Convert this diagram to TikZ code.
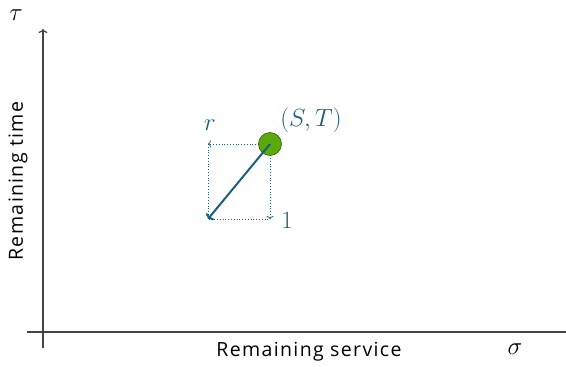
\documentclass[tikz,border=0pt]{standalone}
\usepackage{fontspec}
\setmainfont{Lato}
\newfontfamily\axfont[LetterSpace=7]{Open Sans}
\usetikzlibrary{arrows.meta}
\definecolor{teal1}{HTML}{1B5E7E}
\definecolor{ptgreen}{HTML}{5BAA0C}
\definecolor{axisgray}{HTML}{444444}
\tikzset{
  axis/.style={draw=axisgray, line width=1.2pt},
  dotline/.style={draw=teal1, dotted, line width=0.8pt},
  lbl/.style={text=teal1, font=\fontsize{24}{28}\selectfont, inner sep=0pt},
  axlbl/.style={font=\axfont\fontsize{19.5}{23}\selectfont, inner sep=0pt},
  mlbl/.style={font=\fontsize{24}{28}\selectfont, inner sep=0pt},
}
\begin{document}
\begin{tikzpicture}[x=1pt,y=-1pt]
\useasboundingbox (0,0) rectangle (566,367);
\coordinate (xl) at (27,332);
\coordinate (xr) at (566,332);
\coordinate (yb) at (43,348);
\coordinate (yt) at (43,29);
\draw[axis] (xl) -- (xr);
\draw[axis, -{To[length=4pt,width=9pt]}] (yb) -- (yt);
\node[mlbl] (tau) at (16,15) {$\tau$};
\node[mlbl] (sig) at (515,349) {$\sigma$};
\node[axlbl] (xlab) at (309,352) {Remaining service};
\node[axlbl, rotate=90] (ylab) at (18,181) {Remaining time};
\coordinate (P) at (270,144);
\coordinate (R) at (208,144);
\coordinate (O) at (270,219);
\coordinate (Q) at (208,219);
\draw[dotline] (R) -- (Q) -- (O);
\draw[dotline, -{To[length=3pt,width=7pt]}] (P) -- (R);
\draw[dotline, -{To[length=3pt,width=7pt]}] (P) -- (O);
\node[circle, fill=ptgreen, draw=ptgreen!55!black, line width=0.6pt, minimum size=23pt, inner sep=0pt] (pt) at (P) {};
\draw[teal1, line width=2pt, -{To[length=4pt,width=10pt]}] (P) -- (Q);
\node[lbl] (rl) at (210,125) {$r$};
\node[lbl] (stl) at (311,120) {$(S,T)$};
\node[lbl] (one) at (287,220) {$1$};
\end{tikzpicture}
\end{document}
